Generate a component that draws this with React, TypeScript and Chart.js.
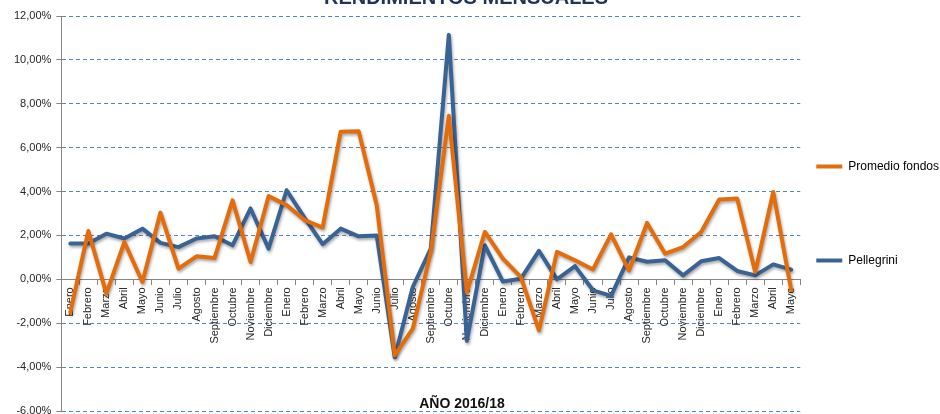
import React, { useEffect, useRef } from 'react';
import { Chart, registerables } from 'chart.js';

Chart.register(...registerables);

const CHART_TITLE = 'RENDIMIENTOS MENSUALES';
const X_TITLE = 'AÑO 2016/18';

const months = [
  'Enero', 'Febrero', 'Marzo', 'Abril', 'Mayo', 'Junio', 'Julio', 'Agosto', 'Septiembre', 'Octubre', 'Noviembre', 'Diciembre',
  'Enero', 'Febrero', 'Marzo', 'Abril', 'Mayo', 'Junio', 'Julio', 'Agosto', 'Septiembre', 'Octubre', 'Noviembre', 'Diciembre',
  'Enero', 'Febrero', 'Marzo', 'Abril', 'Mayo', 'Junio', 'Julio', 'Agosto', 'Septiembre', 'Octubre', 'Noviembre', 'Diciembre',
  'Enero', 'Febrero', 'Marzo', 'Abril', 'Mayo',
];

const promedioFondos = [
  -1.5, 2.2, -0.65, 1.7, -0.12, 3.04, 0.49, 1.05, 0.97, 3.6, 0.79, 3.79,
  3.38, 2.7, 2.36, 6.73, 6.75, 3.38, -3.47, -2.25, 1.25, 7.45, -0.6, 2.16,
  0.94, 0.1, -2.33, 1.25, 0.87, 0.45, 2.05, 0.4, 2.57, 1.17, 1.47, 2.16,
  3.64, 3.68, 0.33, 3.98, -0.5,
];

const pellegrini = [
  1.63, 1.63, 2.08, 1.86, 2.31, 1.66, 1.47, 1.86, 1.96, 1.55, 3.23, 1.4,
  4.06, 2.8, 1.6, 2.31, 1.96, 2.0, -3.55, -0.35, 1.4, 11.14, -2.8, 1.55,
  -0.1, 0.03, 1.3, 0.0, 0.6, -0.5, -0.75, 1.0, 0.8, 0.87, 0.18, 0.82,
  0.97, 0.38, 0.18, 0.68, 0.44,
];

const Y_MIN = -6;
const Y_MAX = 12;
const Y_STEP = 2;

const ORANGE = '#E46C0A';
const BLUE = '#3A6395';
const FONT = '"Liberation Sans", Arial, sans-serif';
const AXIS_GRAY = '#868686';

const shadowPlugin = {
  id: 'lineShadow',
  beforeDatasetsDraw(chart: any) {
    const c = chart.ctx;
    c.save();
    c.shadowColor = 'rgba(0,0,0,0.35)';
    c.shadowBlur = 3;
    c.shadowOffsetX = 1;
    c.shadowOffsetY = 2;
  },
  afterDatasetsDraw(chart: any) {
    chart.ctx.restore();
  },
};

const textPlugin = {
  id: 'titles',
  afterDraw(chart: any) {
    const c = chart.ctx;
    c.save();
    c.textAlign = 'center';
    c.textBaseline = 'alphabetic';
    c.fillStyle = '#1F3558';
    c.font = `bold 20px ${FONT}`;
    c.fillText(CHART_TITLE, 466, 4);
    c.fillStyle = '#111111';
    c.font = `bold 14px ${FONT}`;
    c.fillText(X_TITLE, 462, 408);
    c.restore();
  },
};

export default function App() {
  const ref = useRef<HTMLCanvasElement>(null);

  useEffect(() => {
    document.body.style.margin = '0';
    const chart = new Chart(ref.current as HTMLCanvasElement, {
      type: 'line',
      data: {
        labels: months,
        datasets: [
          {
            label: 'Promedio fondos',
            data: promedioFondos,
            borderColor: ORANGE,
            backgroundColor: ORANGE,
            borderWidth: 4,
            pointRadius: 0,
            tension: 0,
            borderJoinStyle: 'round',
            borderCapStyle: 'round',
          },
          {
            label: 'Pellegrini',
            data: pellegrini,
            borderColor: BLUE,
            backgroundColor: BLUE,
            borderWidth: 4,
            pointRadius: 0,
            tension: 0,
            borderJoinStyle: 'round',
            borderCapStyle: 'round',
          },
        ],
      },
      options: {
        animation: false,
        responsive: false,
        layout: { autoPadding: false, padding: { top: 16, bottom: 3, left: 9, right: -9 } },
        plugins: {
          tooltip: { enabled: false },
          title: { display: false },
          legend: {
            position: 'right',
            align: 'center',
            labels: {
              boxWidth: 26,
              boxHeight: 4,
              padding: 16,
              color: '#000000',
              font: { family: FONT, size: 12, lineHeight: 1.3 },
              generateLabels: (ch: any) =>
                ch.data.datasets.map((ds: any, i: number) => ({
                  text: i === 0 ? [ds.label, '', '', '', ''] : ds.label,
                  fillStyle: ds.borderColor,
                  strokeStyle: ds.borderColor,
                  lineWidth: 0,
                  hidden: false,
                  datasetIndex: i,
                  fontColor: '#000000',
                })),
            },
          },
        },
        scales: {
          x: {
            type: 'category',
            position: { y: 0 } as any,
            offset: true,
            afterFit: (s: any) => {
              s.height = 0;
              s.paddingLeft = 0;
              s.paddingRight = 0;
            },
            grid: {
              display: true,
              drawOnChartArea: false,
              drawTicks: true,
              tickLength: 5,
              color: AXIS_GRAY,
              offset: true,
            },
            border: { display: true, color: AXIS_GRAY, width: 1 },
            ticks: {
              autoSkip: false,
              maxRotation: 90,
              minRotation: 90,
              padding: 3,
              color: '#262626',
              font: { family: FONT, size: 11 },
            },
          },
          y: {
            type: 'linear',
            position: 'left',
            min: Y_MIN,
            max: Y_MAX,
            afterFit: (s: any) => {
              s.paddingTop = 0;
              s.paddingBottom = 0;
            },
            ticks: {
              stepSize: Y_STEP,
              padding: 5,
              color: '#262626',
              font: { family: FONT, size: 11 },
              callback: (v: any) => Number(v).toFixed(2).replace('.', ',') + '%',
            },
            grid: {
              color: (ctx: any) => (ctx.tick && ctx.tick.value === 0 ? 'rgba(0,0,0,0)' : '#5585C4'),
              lineWidth: 1,
              tickLength: 5,
              tickColor: AXIS_GRAY,
            },
            border: { display: true, color: AXIS_GRAY, width: 1, dash: [4, 3] },
          },
        },
      },
      plugins: [shadowPlugin, textPlugin],
    } as any);
    return () => chart.destroy();
  }, []);

  return <canvas ref={ref} width={940} height={414} style={{ display: 'block' }} />;
}
